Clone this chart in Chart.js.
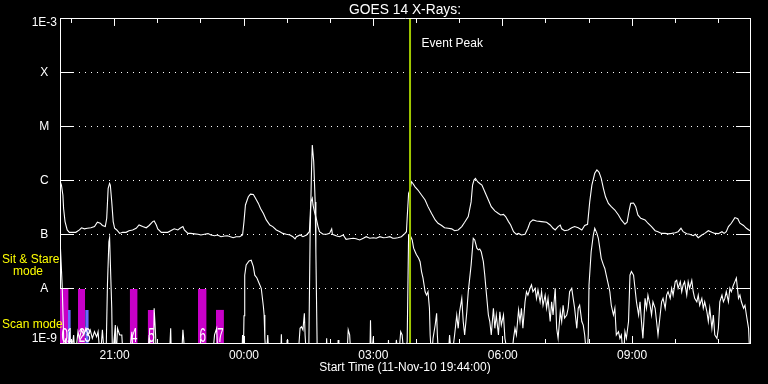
<!DOCTYPE html>
<html>
<head>
<meta charset="utf-8">
<title>GOES 14 X-Rays</title>
<script src="https://cdn.jsdelivr.net/npm/chart.js@4.4.1/dist/chart.umd.min.js"></script>
<style>
html,body{margin:0;padding:0;background:#000;overflow:hidden;}
canvas{display:block;}
</style>
</head>
<body>
<canvas id="goes" width="768" height="384"></canvas>
<script>
// ---------------- data ----------------
const chartTitle = 'GOES 14 X-Rays:';
const axisTitle = 'Start Time (11-Nov-10 19:44:00)';
// x values are minutes after the start time (19:44)
const xMajorTicks = [76, 256, 436, 616, 796];
const xMajorLabels = ['21:00', '00:00', '03:00', '06:00', '09:00'];
const xHourTicks = [16, 76, 136, 196, 256, 316, 376, 436, 496, 556, 616, 676, 736, 796, 856, 916];
const yTickValues = [1e-9, 1e-8, 1e-7, 1e-6, 1e-5, 1e-4, 1e-3];
const yTickLabels = ['1E-9', 'A', 'B', 'C', 'M', 'X', '1E-3'];

// long channel (1-8 A): [minute, W/m^2]
const longChannel = [
  [0,1.0e-6],[2,8.4e-7],[4,5.5e-7],[5,3.1e-7],[7,1.77e-7],[10,1.24e-7],[13,1.12e-7],[18,1.12e-7],[22,1.12e-7],[27,1.24e-7],
  [30,1.36e-7],[34,1.3e-7],[38,1.33e-7],[43,1.36e-7],[48,1.43e-7],[52,1.72e-7],[56,1.65e-7],[59,1.5e-7],[63,1.43e-7],[65,2.04e-7],
  [67,7.3e-7],[69,9.0e-7],[70,8.4e-7],[72,4.1e-7],[74,1.77e-7],[76,1.33e-7],[79,1.24e-7],[83,1.07e-7],[87,1.12e-7],[92,1.12e-7],
  [96,1.2e-7],[101,1.24e-7],[106,1.33e-7],[110,1.53e-7],[115,1.43e-7],[120,1.36e-7],[124,1.5e-7],[129,1.77e-7],[131,1.82e-7],[134,1.53e-7],
  [136,1.3e-7],[141,1.12e-7],[145,1.12e-7],[150,1.12e-7],[154,1.2e-7],[159,1.3e-7],[164,1.24e-7],[167,1.33e-7],[171,1.43e-7],[173,1.24e-7],
  [178,1.07e-7],[182,1.07e-7],[187,1.05e-7],[192,1.03e-7],[196,1.0e-7],[201,1.03e-7],[206,1.06e-7],[210,1.0e-7],[215,9.7e-8],[219,1.0e-7],
  [224,9.3e-8],[229,9.6e-8],[233,9.7e-8],[241,8.9e-8],[245,9.3e-8],[250,9.3e-8],[254,1.0e-7],[256,1.77e-7],[258,3.6e-7],[262,5.1e-7],
  [265,5.7e-7],[269,5.6e-7],[272,4.8e-7],[276,3.85e-7],[279,3.1e-7],[283,2.5e-7],[287,1.9e-7],[292,1.53e-7],[296,1.43e-7],[301,1.24e-7],
  [306,1.15e-7],[310,1.07e-7],[315,1.03e-7],[320,1.0e-7],[324,9.3e-8],[327,8.5e-8],[329,9.3e-8],[334,1.0e-7],[338,9.3e-8],[343,1.0e-7],
  [347,1.15e-7],[349,4.1e-7],[351,4.8e-7],[352,3.6e-7],[354,2.7e-7],[357,1.9e-7],[359,1.43e-7],[361,1.15e-7],[366,1.03e-7],[371,1.03e-7],
  [375,1.07e-7],[378,1.3e-7],[379,1.03e-7],[385,9.6e-8],[389,9.3e-8],[394,1.0e-7],[398,8.3e-8],[403,8.5e-8],[408,8.7e-8],[412,8.5e-8],
  [417,8.1e-8],[422,8.7e-8],[426,9.3e-8],[431,8.7e-8],[436,8.9e-8],[440,8.7e-8],[445,9.3e-8],[450,8.9e-8],[454,9.0e-8],[459,9.3e-8],
  [463,8.7e-8],[466,8.7e-8],[470,8.9e-8],[475,9.3e-8],[480,1.07e-7],[482,1.15e-7],[483,2.04e-7],[485,5.9e-7],[487,6.8e-7],[489,9.7e-7],
  [491,9.0e-7],[494,7.8e-7],[498,6.8e-7],[503,5.5e-7],[508,4.45e-7],[512,3.35e-7],[517,2.5e-7],[522,1.9e-7],[526,1.65e-7],[531,1.5e-7],
  [535,1.36e-7],[540,1.33e-7],[545,1.3e-7],[549,1.2e-7],[554,1.24e-7],[559,1.43e-7],[563,1.72e-7],[568,2.2e-7],[572,4.1e-7],[574,8.4e-7],
  [576,1.04e-6],[578,1.12e-6],[581,9.7e-7],[584,9.0e-7],[587,8.4e-7],[591,6.3e-7],[596,4.45e-7],[600,3.35e-7],[605,2.8e-7],[610,2.5e-7],
  [613,2.35e-7],[617,2.4e-7],[620,2.2e-7],[624,1.77e-7],[627,1.53e-7],[631,1.15e-7],[635,1.03e-7],[638,1.07e-7],[642,1.0e-7],[647,1.03e-7],
  [651,1.33e-7],[654,1.72e-7],[658,1.9e-7],[663,1.82e-7],[670,1.77e-7],[677,1.72e-7],[682,1.53e-7],[686,1.33e-7],[689,1.24e-7],[693,1.43e-7],
  [696,1.53e-7],[698,1.3e-7],[702,1.2e-7],[707,1.24e-7],[712,1.36e-7],[716,1.43e-7],[721,1.36e-7],[726,1.24e-7],[730,1.5e-7],[734,1.58e-7],
  [737,4.1e-7],[740,8.4e-7],[744,1.39e-6],[747,1.6e-6],[750,1.45e-6],[753,1.12e-6],[756,7.3e-7],[759,5.1e-7],[763,3.85e-7],[767,3.35e-7],
  [772,2.9e-7],[777,2.35e-7],[781,1.9e-7],[786,1.58e-7],[789,1.72e-7],[792,2.9e-7],[794,3.85e-7],[798,3.9e-7],[801,3.35e-7],[804,2.35e-7],
  [808,2.04e-7],[814,1.9e-7],[818,1.65e-7],[823,1.43e-7],[828,1.2e-7],[832,1.15e-7],[837,1.07e-7],[842,1.07e-7],[846,1.05e-7],[851,1.07e-7],
  [856,1.1e-7],[860,1.15e-7],[864,1.33e-7],[867,1.15e-7],[872,1.05e-7],[876,1.03e-7],[881,9.7e-8],[884,1.03e-7],[888,8.9e-8],[893,1.0e-7],
  [897,1.07e-7],[902,1.2e-7],[907,1.12e-7],[911,1.07e-7],[916,1.06e-7],[921,1.15e-7],[924,1.07e-7],[927,1.15e-7],[930,1.43e-7],[934,1.65e-7],
  [939,2.1e-7],[943,2.0e-7],[946,1.65e-7],[951,1.5e-7],[955,1.33e-7],[960,1.2e-7]
];

// short channel (0.5-4 A): [minute, W/m^2]; values under 1E-9 fall off the plot
const shortChannel = [
  [0,8.7e-8],[3,1.19e-8],[5,1.41e-9],[6,5e-10],[8,1.22e-9],[11,5e-10],[13,1.62e-9],[15,5e-10],[19,1.41e-9],[21,5e-10],
  [25,1.62e-9],[27,1.22e-9],[30,1.75e-9],[33,1.41e-9],[36,1.87e-9],[39,1.41e-9],[42,1.75e-9],[45,1.22e-9],[48,1.62e-9],[51,1.3e-9],
  [53,1.62e-9],[56,5e-10],[59,1.75e-9],[62,5e-10],[64,5e-10],[66,1.19e-8],[68,7.5e-8],[69,8.9e-8],[70,3.2e-8],[72,4.4e-9],
  [73,5e-10],[77,2.15e-9],[78,5e-10],[80,1.87e-9],[83,1.41e-9],[86,1.41e-9],[88,5e-10],[96,5e-10],[100,1.62e-9],[102,5e-10],
  [122,5e-10],[124,1.41e-9],[127,5e-10],[130,5e-10],[131,4.4e-9],[133,1.41e-9],[134,5e-10],[152,5e-10],[154,1.87e-9],[155,5e-10],
  [169,5e-10],[171,1.75e-9],[172,1.22e-9],[174,5e-10],[212,5e-10],[215,1.41e-9],[218,1.87e-9],[220,5e-10],[253,5e-10],[254,1.41e-9],
  [255,5e-10],[256,3.2e-9],[257,1.8e-8],[259,2.8e-8],[263,3.3e-8],[266,3.4e-8],[269,2.6e-8],[271,1.8e-8],[274,1.6e-8],[277,1.28e-8],
  [280,1.03e-8],[283,4.7e-9],[284,3.3e-9],[285,1.22e-9],[287,5e-10],[289,1.41e-9],[291,5e-10],[307,5e-10],[308,1.45e-9],[309,5e-10],
  [315,5e-10],[316,1.14e-9],[317,5e-10],[331,5e-10],[334,1.87e-9],[336,2.0e-9],[338,1.75e-9],[340,3.55e-9],[341,1.41e-9],[343,5e-10],
  [346,5e-10],[348,1.0e-7],[350,1.72e-6],[351,4.64e-6],[353,2.28e-6],[355,4.1e-7],[356,4.9e-8],[358,5e-10],[370,5e-10],[371,1.22e-9],
  [372,5e-10],[386,5e-10],[387,1.14e-9],[388,5e-10],[399,5e-10],[401,1.75e-9],[403,1.41e-9],[405,5e-10],[431,5e-10],[432,2.65e-9],
  [433,5e-10],[436,1.3e-9],[437,5e-10],[456,5e-10],[457,1.14e-9],[458,5e-10],[466,5e-10],[468,1.14e-9],[471,5e-10],[474,1.62e-9],
  [476,1.41e-9],[479,5e-10],[483,1.06e-9],[485,1.0e-7],[488,9.3e-8],[490,8.1e-8],[492,5.7e-8],[495,4.6e-8],[496,4.3e-8],[499,3.7e-8],
  [501,3.2e-8],[503,2.1e-8],[505,1.6e-8],[508,8.9e-9],[510,7.7e-9],[512,8.9e-9],[514,4.4e-9],[515,1.41e-9],[517,5e-10],[519,1.22e-9],
  [522,2.15e-9],[524,3.55e-9],[525,1.41e-9],[527,5e-10],[540,5e-10],[542,1.41e-9],[545,5e-10],[549,1.41e-9],[552,3.3e-9],[554,1.87e-9],
  [556,3.8e-9],[559,6.7e-9],[561,2.5e-9],[563,1.41e-9],[566,3.8e-9],[568,8.9e-9],[572,2.8e-8],[575,8.7e-8],[577,8.1e-8],[580,5.7e-8],
  [582,5.3e-8],[584,5.5e-8],[586,4.9e-8],[589,3.2e-8],[591,1.8e-8],[593,8.9e-9],[596,3.3e-9],[598,2.5e-9],[600,1.41e-9],[603,4.4e-9],
  [605,1.87e-9],[607,3.3e-9],[610,1.41e-9],[612,3.8e-9],[614,2.15e-9],[617,3.3e-9],[619,1.22e-9],[624,5e-10],[628,5e-10],[631,1.22e-9],
  [633,1.87e-9],[635,1.41e-9],[638,4.1e-9],[640,2.5e-9],[642,4.4e-9],[644,1.87e-9],[647,5.8e-9],[649,8.9e-9],[651,7.7e-9],[654,1.03e-8],
  [656,1.19e-8],[658,8.9e-9],[661,1.03e-8],[663,6.7e-9],[665,9.6e-9],[668,5.8e-9],[670,8.9e-9],[672,5.0e-9],[675,7.7e-9],[677,4.4e-9],
  [679,6.7e-9],[682,2.5e-9],[684,5.8e-9],[686,3.3e-9],[689,1.03e-8],[691,1.87e-9],[693,1.22e-9],[696,3.8e-9],[698,2.5e-9],[700,5.0e-9],
  [702,2.9e-9],[705,3.3e-9],[707,4.4e-9],[709,8.9e-9],[712,1.03e-8],[714,6.7e-9],[716,4.4e-9],[719,1.87e-9],[721,4.4e-9],[723,5.0e-9],
  [726,2.5e-9],[728,2.15e-9],[730,1.41e-9],[733,5e-10],[735,1.41e-9],[736,1.19e-8],[739,4.9e-8],[742,1.0e-7],[744,1.33e-7],[747,1.07e-7],
  [749,8.7e-8],[751,5.7e-8],[753,3.7e-8],[756,2.8e-8],[758,2.4e-8],[760,1.8e-8],[763,1.19e-8],[765,8.9e-9],[767,5.0e-9],[770,3.3e-9],
  [772,4.4e-9],[774,1.41e-9],[777,1.62e-9],[779,1.22e-9],[781,1.41e-9],[784,5e-10],[786,1.62e-9],[788,1.22e-9],[791,2.5e-9],[793,1.8e-8],
  [795,2.1e-8],[798,1.8e-8],[800,1.03e-8],[802,5.8e-9],[805,3.3e-9],[807,5.8e-9],[809,2.5e-9],[811,1.22e-9],[814,6.7e-9],[816,4.4e-9],
  [818,7.7e-9],[821,5.0e-9],[823,3.3e-9],[825,5.8e-9],[828,4.4e-9],[830,2.5e-9],[832,1.41e-9],[835,3.3e-9],[837,5.8e-9],[839,6.7e-9],
  [842,4.4e-9],[844,7.7e-9],[846,8.9e-9],[849,6.7e-9],[851,1.03e-8],[853,7.7e-9],[856,1.37e-8],[858,1.45e-8],[860,1.03e-8],[863,1.37e-8],
  [865,8.9e-9],[867,1.19e-8],[869,1.37e-8],[872,7.7e-9],[874,1.37e-8],[876,1.03e-8],[879,1.45e-8],[881,8.9e-9],[883,6.7e-9],[886,5.8e-9],
  [888,7.7e-9],[890,5.0e-9],[893,6.7e-9],[895,4.4e-9],[897,5.8e-9],[900,3.8e-9],[902,2.5e-9],[904,4.4e-9],[907,1.87e-9],[909,3.3e-9],
  [911,1.41e-9],[914,1.22e-9],[916,1.87e-9],[918,5.8e-9],[921,7.7e-9],[923,5.8e-9],[925,6.7e-9],[927,8.9e-9],[930,5.8e-9],[932,1.03e-8],
  [934,8.9e-9],[937,1.19e-8],[939,1.37e-8],[941,1.6e-8],[944,6.7e-9],[946,7.7e-9],[948,5.8e-9],[951,4.4e-9],[953,5.0e-9],[955,3.3e-9],
  [958,1.87e-9],[960,5e-10]
];

// observing-mode intervals (minutes after start)
const modeBarLabels = ['0', '1', '2', '3', '4', '5', '6', '7'];
const modeBarStart  = [0, 11, 25, 35, 97, 122, 192, 217];
const modeBarEnd    = [12, 15, 35, 40, 108, 131, 204, 228];
const modeBarMode   = ['stare', 'scan', 'stare', 'scan', 'stare', 'scan', 'stare', 'scan'];
const modeBarSource = ['a', 'b', 'a', 'b', 'a', 'a', 'a', 'a'];

const eventPeakTime = 487;
const eventPeakLabel = 'Event Peak';
const modeNames = { stare: ['Sit & Stare', 'mode'], scan: ['Scan mode'] };

// ---------------- styles ----------------
const FONT = "'Liberation Sans', Arial, 'DejaVu Sans', sans-serif";
const modeLevel = { stare: 1e-8, scan: 4.1e-9 };
const sourceColor = { a: '#c800c8', b: '#6a6aff' };
const PEAK_COLOR = 'rgb(160,200,0)';
const YELLOW = '#ffff00';

Chart.defaults.font.family = FONT;
Chart.defaults.color = '#ffffff';

const toPts = arr => arr.map(p => ({ x: p[0], y: p[1] }));

const barSets = modeBarLabels.map((lab, i) => ({
  label: 'mode ' + lab,
  data: [
    { x: modeBarStart[i], y: modeLevel[modeBarMode[i]] },
    { x: modeBarEnd[i], y: modeLevel[modeBarMode[i]] }
  ],
  fill: 'start',
  backgroundColor: sourceColor[modeBarSource[i]],
  borderColor: 'rgba(0,0,0,0)',
  borderWidth: 0,
  pointRadius: 0,
  tension: 0,
  order: modeBarSource[i] === 'b' ? 2 : 3
}));

const datasets = [
  {
    label: eventPeakLabel,
    data: [{ x: eventPeakTime, y: 1e-9 }, { x: eventPeakTime, y: 1e-3 }],
    borderColor: PEAK_COLOR, borderWidth: 2, pointRadius: 0, fill: false, order: 0
  },
  {
    label: 'Long channel',
    data: toPts(longChannel),
    borderColor: '#ffffff', borderWidth: 1.1, pointRadius: 0, tension: 0, fill: false, order: 1
  },
  {
    label: 'Short channel',
    data: toPts(shortChannel),
    borderColor: '#ffffff', borderWidth: 1.1, pointRadius: 0, tension: 0, fill: false, order: 1
  },
  ...barSets
];

const align = v => Math.round(v - 0.5) + 0.5;

const decor = {
  id: 'decor',
  beforeDraw(chart) {
    const c = chart.ctx;
    c.save();
    c.fillStyle = '#000';
    c.fillRect(0, 0, chart.width, chart.height);
    c.restore();
  },
  afterDatasetsDraw(chart) {
    const { ctx, chartArea: a, scales } = chart;
    const xs = scales.x, ys = scales.y;
    ctx.save();
    // inward tick marks
    ctx.strokeStyle = '#ffffff';
    ctx.lineWidth = 1;
    ctx.beginPath();
    yTickValues.slice(1, -1).forEach(v => {
      const y = align(ys.getPixelForValue(v));
      ctx.moveTo(a.left, y); ctx.lineTo(a.left + 14, y);
      ctx.moveTo(a.right - 14, y); ctx.lineTo(a.right, y);
    });
    xHourTicks.forEach(m => {
      const x = align(xs.getPixelForValue(m));
      const len = xMajorTicks.includes(m) ? 7 : 4;
      ctx.moveTo(x, a.top); ctx.lineTo(x, a.top + len);
      ctx.moveTo(x, a.bottom); ctx.lineTo(x, a.bottom - len);
    });
    ctx.stroke();

    // bar numbers
    ctx.fillStyle = '#ffffff';
    ctx.font = '21px ' + FONT;
    ctx.textAlign = 'center';
    ctx.textBaseline = 'alphabetic';
    modeBarLabels.forEach((lab, i) => {
      const cx = (xs.getPixelForValue(modeBarStart[i]) + xs.getPixelForValue(modeBarEnd[i])) / 2 + 0.5;
      ctx.save();
      ctx.translate(cx, a.bottom - 1);
      ctx.scale(0.55, 1);
      ctx.fillText(lab, 0, 0);
      ctx.restore();
    });

    // event peak label
    ctx.font = '12px ' + FONT;
    ctx.textAlign = 'left';
    ctx.fillText(eventPeakLabel, xs.getPixelForValue(eventPeakTime) + 11.5, a.top + 28);
    ctx.restore();
  },
  afterDraw(chart) {
    const { ctx, chartArea: a, scales } = chart;
    const ys = scales.y;
    const yA = ys.getPixelForValue(modeLevel.stare);
    ctx.save();
    ctx.fillStyle = YELLOW;
    ctx.font = '12px ' + FONT;
    ctx.textAlign = 'left';
    ctx.textBaseline = 'alphabetic';
    ctx.fillText(modeNames.stare[0], 2, yA - 25.7);
    ctx.fillText(modeNames.stare[1], 13, yA - 14);
    ctx.fillText(modeNames.scan[0], 2, a.bottom - 14.7);
    ctx.restore();
  }
};

// end labels are kept inside the frame (shifted half a line inward)
const yLabelFor = (i) => {
  const t = yTickLabels[i];
  if (i === 0) return [t, ''];
  if (i === yTickLabels.length - 1) return ['', t];
  return t;
};

new Chart(document.getElementById('goes'), {
  type: 'line',
  data: { datasets },
  options: {
    responsive: false,
    animation: false,
    devicePixelRatio: 1,
    events: [],
    layout: { padding: 0 },
    plugins: {
      legend: { display: false },
      tooltip: { enabled: false },
      title: {
        display: true,
        text: chartTitle,
        color: '#ffffff',
        font: { family: FONT, size: 13.8, weight: 'normal' },
        padding: { top: 1.6, bottom: 0.8 },
        fullSize: false
      }
    },
    scales: {
      x: {
        type: 'linear',
        position: 'bottom',
        min: 0, max: 960,
        afterBuildTicks: s => { s.ticks = xMajorTicks.map(v => ({ value: v })); },
        afterFit: s => { s.height = 41; },
        ticks: {
          autoSkip: false, maxRotation: 0, padding: 5, color: '#ffffff',
          font: { family: FONT, size: 12 },
          callback: (v, i) => xMajorLabels[i]
        },
        grid: { display: false, drawTicks: false },
        border: { display: true, color: '#ffffff', width: 1 },
        title: {
          display: true, text: axisTitle, color: '#ffffff',
          font: { family: FONT, size: 12 },
          padding: { top: 0, bottom: 9 }
        }
      },
      x2: {
        type: 'linear',
        position: 'top',
        min: 0, max: 960,
        afterFit: s => { s.height = 0; },
        ticks: { display: false },
        grid: { display: false, drawTicks: false },
        border: { display: true, color: '#ffffff', width: 1 }
      },
      y: {
        type: 'logarithmic',
        position: 'left',
        min: 1e-9, max: 1e-3,
        afterBuildTicks: s => { s.ticks = yTickValues.map(v => ({ value: v })); },
        afterFit: s => { s.width = 60; },
        ticks: {
          autoSkip: false, crossAlign: 'center', padding: 3, color: '#ffffff',
          font: { family: FONT, size: 12, lineHeight: 0.7 },
          callback: (v, i) => yLabelFor(i)
        },
        grid: { display: true, color: '#ffffff', lineWidth: 1, drawTicks: false, borderDash: [1, 5] },
        border: { display: true, color: '#ffffff', width: 1, dash: [1, 5] }
      },
      y2: {
        type: 'logarithmic',
        position: 'right',
        min: 1e-9, max: 1e-3,
        afterFit: s => { s.width = 18; },
        ticks: { display: false },
        grid: { display: false, drawTicks: false },
        border: { display: true, color: '#ffffff', width: 1 }
      }
    }
  },
  plugins: [decor]
});
</script>
</body>
</html>
